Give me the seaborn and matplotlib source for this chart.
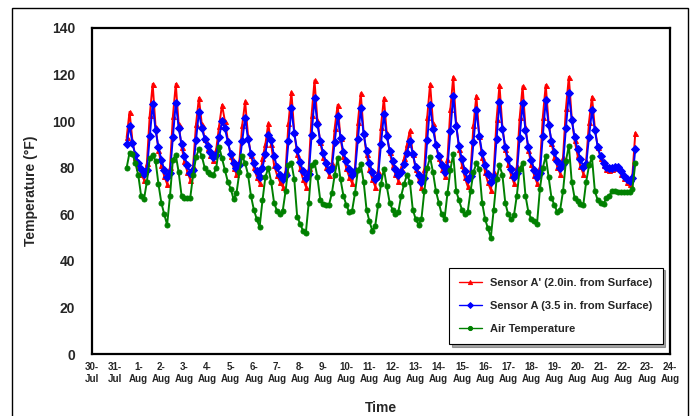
import numpy as np
import pandas as pd
import matplotlib.pyplot as plt
from matplotlib.patches import Rectangle
import seaborn as sns

# readings every 3 hours, Jul 31 12:00 -> Aug 22 12:00
start_time = "2005-07-31 12:00"

sensor_a_prime = [
    93, 104, 91.6, 84.8,
    80.4, 77.2, 74.8, 82, 102.7, 116, 97.7, 87.7,
    81.2, 76.4, 73, 80.3, 102.1, 116, 98.6, 89,
    82.8, 78.2, 74.9, 80.9, 98.6, 110, 98.7, 92.5,
    88.4, 85.4, 83.3, 88, 98, 107, 100, 92,
    85, 80, 77.3, 82.7, 98.4, 108.5, 93.6, 85.4,
    80.1, 76.2, 73.3, 84, 90, 99, 90, 81.1,
    77, 74, 71.8, 78.9, 99.4, 112.5, 95.3, 85.9,
    79.7, 75.2, 71.9, 79.8, 102.8, 117.5, 100.3, 90.9,
    84.7, 80.2, 76.9, 82, 97.2, 107, 92.7, 84.9,
    79.8, 76.1, 73.3, 80, 99.5, 112, 95, 85.7,
    79.6, 75.1, 71.9, 78.4, 97.7, 110, 94.9, 86.6,
    81.2, 77.2, 74.4, 80, 84, 90, 96, 86,
    79.5, 75, 71.8, 79.5, 101.8, 116, 99.2, 90,
    84, 79.6, 76.4, 83.7, 105.2, 119, 99.1, 88.1,
    81, 75.8, 72, 78.6, 98.4, 111, 93.8, 84.4,
    78.2, 73.7, 70.4, 78.2, 100.9, 115.5, 97.7, 87.9,
    81.5, 76.8, 73.4, 80.6, 101.6, 115, 97.4, 87.7,
    81.4, 76.8, 73.4, 80.7, 101.9, 115.5, 99.3, 90.5,
    84.7, 80.5, 77.4, 84.6, 105.6, 119, 101.4, 91.7,
    85.4, 80.8, 77.4, 83, 99.8, 110.5, 97, 89,
    84, 81, 79.5, 79, 79.5, 80.5, 80, 77.5,
    75.5, 74, 73, 77, 95,
]

sensor_a = [
    90, 98, 90.5, 85.5,
    82.1, 79.3, 77.1, 79, 93.5, 107.5, 96.1, 88.7,
    83.5, 79.2, 76, 77.6, 93.2, 108, 97.2, 90,
    85.1, 81, 77.9, 79.2, 91.9, 104, 97, 92.4,
    89.2, 86.6, 84.6, 85.5, 93, 100, 97, 91,
    86, 82, 80, 81.3, 91.6, 101.5, 92.2, 86.1,
    81.9, 78.4, 75.8, 80, 86, 94, 92, 85,
    80.5, 77, 75, 77, 91.5, 105.5, 94.7, 87.5,
    82.6, 78.5, 75.4, 77.3, 94, 110, 98.8, 91.4,
    86.3, 82.2, 79, 79.9, 91.2, 102, 92.9, 86.9,
    82.8, 79.4, 76.8, 78.4, 92.2, 105.5, 94.5, 87.2,
    82.2, 78.1, 75, 76.3, 90, 103, 93.6, 87.3,
    83, 79.5, 76.8, 78, 81.5, 86.5, 91.5, 86,
    80.5, 77, 74, 75.7, 91.7, 107, 96.6, 89.8,
    85, 81.2, 78.2, 80, 95.8, 111, 98, 89.5,
    83.6, 78.8, 75.1, 76.5, 91, 105, 93.8, 86.4,
    81.3, 77.2, 74, 75.8, 92.4, 108.3, 96.6, 89,
    83.7, 79.3, 76, 77.6, 92.9, 107.6, 96.2, 88.7,
    83.5, 79.2, 76, 77.7, 93.7, 109, 98.5, 91.6,
    86.8, 82.9, 79.9, 81.6, 97.2, 112, 100.6, 93.2,
    88, 83.7, 80.5, 81.5, 93.4, 104.7, 96, 89,
    85, 82, 80.5, 80, 80, 80.5, 80.5, 78.5,
    76.5, 75.3, 74.5, 75.5, 88,
]

air_temp = [
    80, 86.5, 86, 82,
    77, 68, 66.5, 74, 84, 85.5, 83, 73,
    65, 60, 55.5, 68, 83.5, 85.5, 78, 68,
    67, 67, 67, 77, 84.5, 88, 85, 80,
    78, 77.5, 77, 80, 89, 84, 79, 74,
    71, 66.5, 69, 78, 85, 82, 77, 68,
    62, 58, 54.5, 66, 76, 80, 74, 65,
    61.5, 60, 61.5, 70, 81, 82, 75, 59,
    56, 53, 52, 65, 81, 82.4, 76, 66,
    64.5, 64, 64, 69, 77, 84, 75, 68,
    64, 61, 61.5, 69, 79, 81.5, 74, 62,
    57, 53, 55, 64, 73, 79.5, 72, 65,
    62, 60, 61, 68, 73, 77, 74, 62,
    58, 55.5, 58, 70, 80, 84.5, 78, 70,
    65, 60, 58, 69, 79, 86, 70, 66,
    62, 60, 61, 70, 78, 82, 79.5, 65,
    58, 54, 50, 62, 75, 81, 77, 65,
    60, 58, 59.5, 68, 79.5, 82, 68, 61,
    58, 57, 56, 71, 80, 85, 76, 67,
    64, 61, 62, 70, 83, 89.5, 74, 67,
    65.5, 64.5, 64, 74, 81, 84.5, 70, 66,
    65, 64.5, 67, 68, 70, 70, 69.5, 69.5,
    69.5, 69.5, 69.5, 71, 82,
]

labels = ["Sensor A' (2.0in. from Surface)", "Sensor A (3.5 in. from Surface)", "Air Temperature"]
colors = ["#ff0000", "#0000ff", "#008000"]
markers = ["^", "D", "o"]

day_labels = ["30-\nJul", "31-\nJul"] + [f"{d}-\nAug" for d in range(1, 25)]
y_ticks = [0, 20, 40, 60, 80, 100, 120, 140]

times = pd.date_range(start_time, periods=len(air_temp), freq="3h")
df = pd.DataFrame({"time": times, labels[0]: sensor_a_prime,
                   labels[1]: sensor_a, labels[2]: air_temp})

sns.set_style("white")
plt.rcParams["font.family"] = ["Liberation Sans Narrow", "Liberation Sans", "DejaVu Sans"]
plt.rcParams["font.weight"] = "bold"

fig = plt.figure(figsize=(6.91, 4.16), dpi=100)
fig.patches.append(Rectangle((0.0174, -0.02), 0.978, 1.001, transform=fig.transFigure,
                             fill=False, edgecolor="black", linewidth=1))
ax = fig.add_axes([0.1331, 0.149, 0.8365, 0.7837])

for lab, col, mk in zip(labels, colors, markers):
    sns.lineplot(data=df, x="time", y=lab, ax=ax, color=col, marker=mk,
                 markersize=3.6, markeredgewidth=0.7, markeredgecolor=col,
                 linewidth=1.4, label=lab)

day_ticks = pd.date_range("2005-07-30", "2005-08-24", freq="D")
ax.set_xlim(day_ticks[0], day_ticks[-1])
ax.set_xticks(day_ticks)
ax.set_xticklabels(day_labels, fontsize=7, fontweight="bold")
ax.set_ylim(0, 140)
ax.set_yticks(y_ticks)
ax.set_yticklabels([str(v) for v in y_ticks], fontsize=10, fontweight="bold")
ax.tick_params(axis="x", direction="in", length=3, width=0.8, pad=6)
ax.tick_params(axis="y", direction="in", length=4, width=0.8, pad=12)

for s in ax.spines.values():
    s.set_color("black")
    s.set_linewidth(1.6)

ax.set_xlabel("Time", fontsize=10, fontweight="bold", labelpad=12)
ax.set_ylabel("Temperature (°F)", fontsize=10, fontweight="bold", labelpad=10)

leg = ax.legend(loc="lower right", bbox_to_anchor=(0.997, 0.013),
                frameon=True, fancybox=False, shadow=True, edgecolor="black",
                labelspacing=1.2, handlelength=2, borderpad=0.9,
                prop={"weight": "bold", "size": 8})
leg.get_frame().set_linewidth(0.8)
for h in leg.get_lines():
    h.set_markersize(3)
    h.set_linewidth(1)

fig.savefig("out.png", dpi=100)
